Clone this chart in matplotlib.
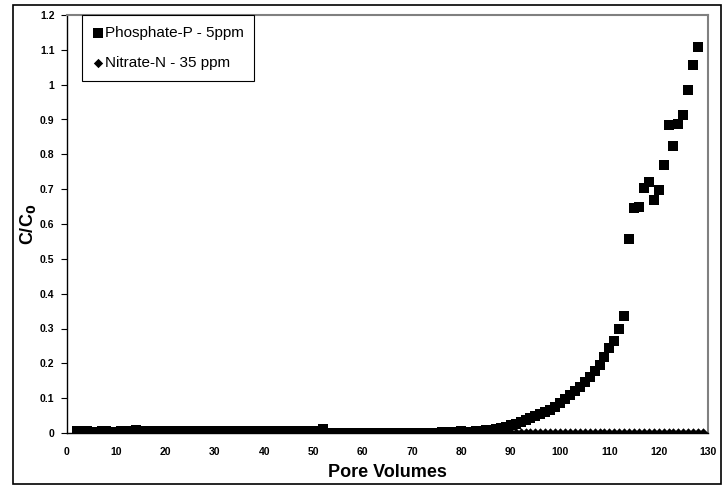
import numpy as np
import matplotlib
matplotlib.use('Agg')
import matplotlib.pyplot as plt
from matplotlib.patches import Rectangle
from matplotlib.ticker import FormatStrFormatter, MultipleLocator

matplotlib.rcParams['font.family'] = ['Liberation Sans', 'DejaVu Sans']

# phosphate breakthrough (pore volumes, C/C0)
pv_phos = [2, 3, 4, 6, 7, 8, 9, 11, 12, 13, 14, 15, 16, 17, 18, 19, 20, 21, 22, 23, 24,
           26, 27, 28, 29, 31, 32, 33, 34, 36, 37, 38, 39, 40, 41, 42, 43, 44,
           46, 47, 48, 49, 50, 51, 52,
           53, 54, 55, 56, 57, 58, 59, 60, 61, 62, 63, 64, 65, 66, 67, 68, 69, 70,
           71, 72, 73, 74, 75, 76, 77, 78, 79, 80, 81, 82, 83, 84,
           85, 86, 87, 88, 89, 90, 91, 92, 93, 94, 95, 96, 97, 98, 99, 100,
           101, 102, 103, 104, 105, 106, 107, 108, 109, 110, 111, 112, 113,
           114, 115, 116, 117, 118, 119, 120, 121, 122, 123, 124, 125, 126, 127, 128]
c_phos = [0.005, 0.004, 0.005, 0.004, 0.005, 0.005, 0.004, 0.005, 0.005, 0.006, 0.009, 0.006,
          0.005, 0.005, 0.004, 0.005, 0.005, 0.005, 0.004, 0.005, 0.005,
          0.005, 0.004, 0.005, 0.005, 0.005, 0.004, 0.005, 0.005, 0.005, 0.005, 0.004, 0.005,
          0.005, 0.005, 0.004, 0.005, 0.005,
          0.005, 0.005, 0.004, 0.005, 0.005, 0.006, 0.011,
          0, 0, 0, 0, 0, 0, 0, 0, 0, 0, 0, 0, 0, 0, 0, 0, 0, 0,
          0, 0, 0, 0, 0, 0.002, 0.004, 0.002, 0.003, 0.005, 0.003, 0.004, 0.005, 0.006,
          0.008, 0.010, 0.012, 0.014, 0.018, 0.022, 0.027, 0.031, 0.036, 0.042, 0.048,
          0.054, 0.060, 0.066, 0.075, 0.085,
          0.098, 0.110, 0.122, 0.132, 0.145, 0.162, 0.178, 0.195, 0.218, 0.245, 0.265,
          0.299, 0.336,
          0.557, 0.645, 0.650, 0.703, 0.720, 0.669, 0.698, 0.770, 0.884, 0.824, 0.886,
          0.913, 0.985, 1.057, 1.108]

# nitrate stays at zero
pv_nitr = list(range(2, 130))
c_nitr = [0.0] * len(pv_nitr)

xticks = [0, 10, 20, 30, 40, 50, 60, 70, 80, 90, 100, 110, 120, 130]

fig = plt.figure(figsize=(7.26, 4.86), dpi=100)
ax = fig.add_axes([67/726, 1 - 433/486, (708 - 67)/726, (433 - 15)/486])

# outer chart border
fig.patches.append(Rectangle((13/726, 2/486), (721 - 13)/726, (481 - 2)/486,
                             transform=fig.transFigure, fill=False,
                             edgecolor='black', linewidth=1.2))

ax.scatter(pv_nitr, c_nitr, marker='D', s=28, color='black', linewidths=0,
           label='Nitrate-N - 35 ppm', zorder=3)
ax.scatter(pv_phos, c_phos, marker='s', s=52, color='black', linewidths=0,
           label='Phosphate-P - 5ppm', zorder=4)

ax.set_xlim(0, 130)
ax.set_ylim(0, 1.2)
ax.set_xticks(xticks)
ax.yaxis.set_major_locator(MultipleLocator(0.1))
ax.yaxis.set_major_formatter(FormatStrFormatter('%g'))
ax.tick_params(axis='y', direction='out', length=4, width=0.8, labelsize=7.5, pad=5)
ax.tick_params(axis='x', direction='out', length=0, labelsize=7.5, pad=10)
for lab in ax.get_xticklabels() + ax.get_yticklabels():
    lab.set_fontweight('bold')

for side in ['left', 'bottom']:
    ax.spines[side].set_color('black')
    ax.spines[side].set_linewidth(1.0)
for side in ['top', 'right']:
    ax.spines[side].set_color('#808080')
    ax.spines[side].set_linewidth(1.5)

ax.set_xlabel('Pore Volumes', fontsize=13, fontweight='bold', labelpad=5)
ax.set_ylabel('C/C$_\\mathbf{0}$', fontsize=13, fontweight='bold', labelpad=1)

handles, labels = ax.get_legend_handles_labels()
leg = ax.legend(handles[::-1], labels[::-1], loc='upper left',
                bbox_to_anchor=(0.023, 1.0), borderaxespad=0, fontsize=11,
                frameon=True, fancybox=False, framealpha=1, edgecolor='black',
                handlelength=0.7, handletextpad=0.1, labelspacing=1.1,
                borderpad=0.7, markerscale=0.9, scatterpoints=1)
leg.get_frame().set_linewidth(0.8)

plt.savefig('out.png', dpi=100)
plt.close()
